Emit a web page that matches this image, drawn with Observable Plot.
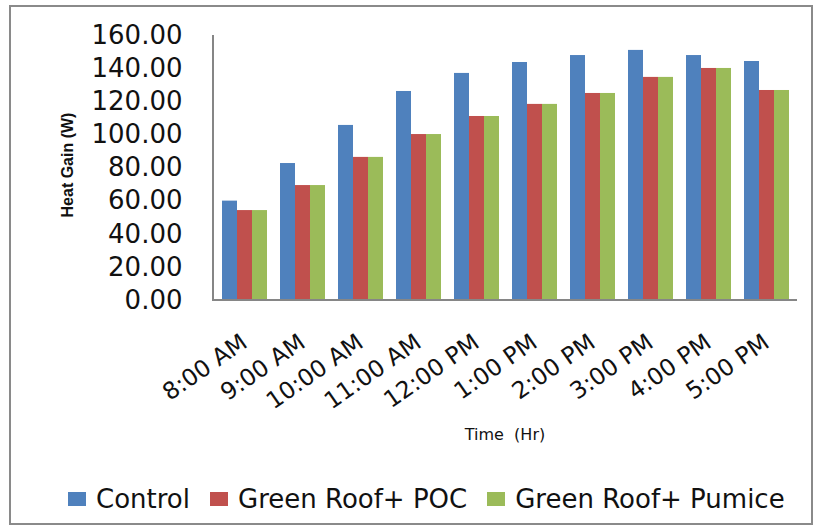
<!DOCTYPE html>
<html>
<head>
<meta charset="utf-8">
<script src="https://cdn.jsdelivr.net/npm/d3@7"></script>
<script src="https://cdn.jsdelivr.net/npm/@observablehq/plot@0.6"></script>
<style>
  html, body { margin: 0; padding: 0; background: #fff; }
  body { width: 818px; height: 532px; position: relative; overflow: hidden; font-family: "DejaVu Sans", sans-serif; }
  #border { position: absolute; left: 9px; top: 5px; width: 800px; height: 516px; border: 2px solid #8a8a8a; pointer-events: none; }
  #chart { position: absolute; left: 0; top: 0; }
  #ytitle { position: absolute; left: 68px; top: 165px; transform: translate(-50%, -50%) rotate(-90deg); font-family: "Liberation Sans", sans-serif; font-weight: bold; font-size: 16px; color: #111; white-space: nowrap; }
  #xtitle { position: absolute; left: 505px; top: 434px; transform: translate(-50%, -50%); font-size: 16px; color: #111; white-space: pre; }
  #legend { position: absolute; left: 68px; top: 484px; display: flex; align-items: center; font-size: 26px; color: #111; white-space: nowrap; }
  #legend .sw { display: inline-block; width: 18px; height: 14px; margin-right: 10px; }
  #legend .item { display: flex; align-items: center; margin-right: 20px; }
</style>
</head>
<body>
<div id="chart"></div>
<div id="ytitle">Heat Gain (W)</div>
<div id="xtitle">Time  (Hr)</div>
<div id="legend"></div>
<div id="border"></div>
<script>
// ---- data ----
const times = ["8:00 AM", "9:00 AM", "10:00 AM", "11:00 AM", "12:00 PM", "1:00 PM", "2:00 PM", "3:00 PM", "4:00 PM", "5:00 PM"];
const seriesNames = ["Control", "Green Roof+ POC", "Green Roof+ Pumice"];
const control = [60.0, 82.7, 105.7, 126.2, 137.1, 143.7, 147.9, 151.0, 147.9, 144.3];
const poc     = [54.3, 69.4, 86.4, 100.2, 111.1, 118.4, 125.0, 134.7, 140.1, 126.8];
const pumice  = [54.3, 69.4, 86.4, 100.2, 111.1, 118.4, 125.0, 134.7, 140.1, 126.8];
const yTicks = [0, 20, 40, 60, 80, 100, 120, 140, 160];
const colors = ["#4F81BD", "#C0504D", "#9BBB59"];

const seriesValues = [control, poc, pumice];
const data = times.flatMap((t, i) => seriesNames.map((s, j) => ({time: t, series: s, value: seriesValues[j][i]})));

const plot = Plot.plot({
  width: 818,
  height: 470,
  marginLeft: 213,
  marginRight: 21,
  marginTop: 35,
  marginBottom: 170,
  style: {fontFamily: "DejaVu Sans", color: "#111", background: "transparent", overflow: "visible"},
  fx: {domain: times, paddingInner: 0.2, paddingOuter: 0.1, label: null},
  x: {domain: seriesNames, padding: 0, axis: null},
  y: {domain: [0, 160], label: null},
  color: {domain: seriesNames, range: colors},
  marks: [
    Plot.barY(data, {fx: "time", x: "series", y: "value", fill: "series"}),
    Plot.axisY({ticks: yTicks, tickFormat: d3.format(".2f"), tickSize: 0, tickPadding: 39, fontSize: 26, label: null}),
    Plot.axisFx({anchor: "bottom", tickRotate: -35, tickSize: 0, textAnchor: "end", lineAnchor: "middle", fontSize: 23.5, dx: 0, dy: 27, label: null})
  ]
});
document.getElementById("chart").appendChild(plot);

// axis lines from the library's scales
const ys = plot.scale("y");
const svg = d3.select(plot);
const x0 = 213, x1 = 818 - 21;
svg.append("line").attr("x1", x0).attr("x2", x1)
  .attr("y1", ys.apply(0)).attr("y2", ys.apply(0))
  .attr("stroke", "#868686").attr("stroke-width", 2);
svg.append("line").attr("x1", x0).attr("x2", x0)
  .attr("y1", ys.apply(160)).attr("y2", ys.apply(0) + 1)
  .attr("stroke", "#868686").attr("stroke-width", 2);

// legend
const legend = d3.select("#legend");
seriesNames.forEach((s, i) => {
  const it = legend.append("div").attr("class", "item");
  it.append("span").attr("class", "sw").style("background", colors[i]);
  it.append("span").text(s);
});
</script>
</body>
</html>
